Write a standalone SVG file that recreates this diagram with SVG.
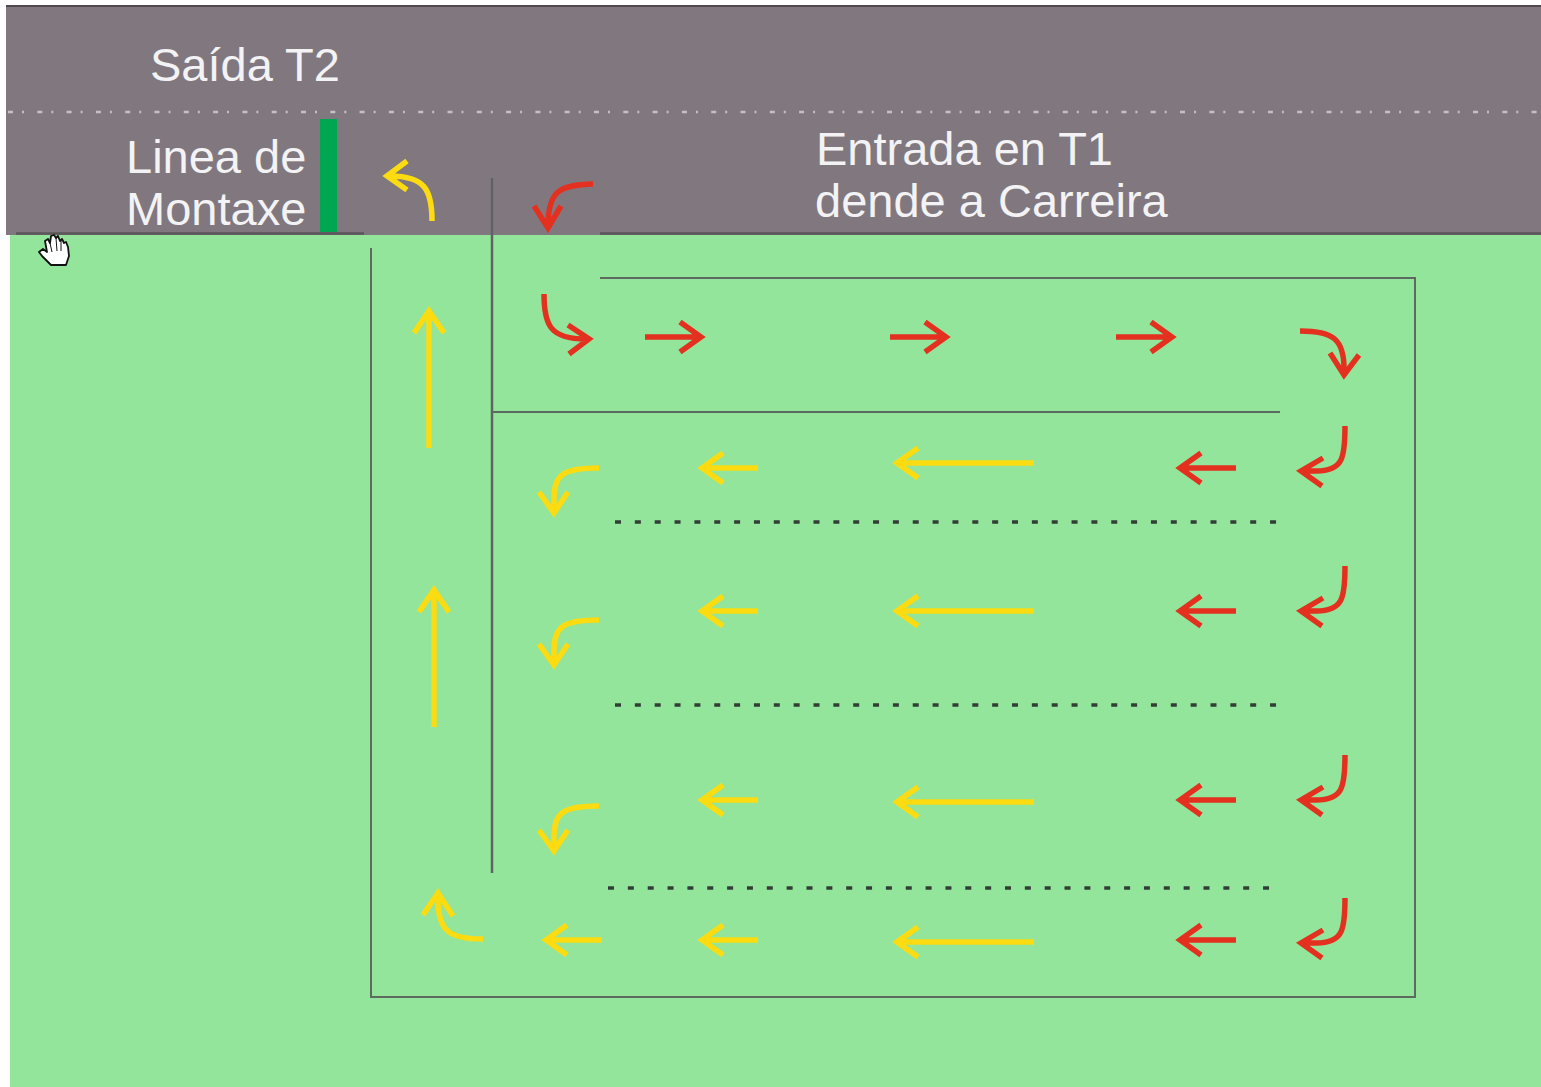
<svg xmlns="http://www.w3.org/2000/svg" width="1541" height="1087" viewBox="0 0 1541 1087">
<style>
text{font-family:"Liberation Sans",Arial,sans-serif;font-size:47px;fill:#f3f3f5}
.r,.y{fill:none;stroke-width:5.500}
.r{stroke:#e4301f}
.y{stroke:#fcdc10}
.l{fill:none;stroke:#5c6a60;stroke-width:2}
.d{fill:none;stroke:#343c36;stroke-width:3.500;stroke-dasharray:6 13.85}
</style>
<defs>
<g id="rl" class="r"><path d="M60 0H6M25-15L4 0L25 15"/></g>
<g id="rr" class="r"><path d="M0 0H55M35-15L56 0L35 15"/></g>
<g id="yl" class="y"><path d="M60 0H6M25-15L4 0L25 15"/></g>
<g id="yll" class="y"><path d="M141 0H6M25-15L4 0L25 15"/></g>
<g id="rj" class="r"><path d="M49 0C49 32 47 45 20 45H6M27 32L5 45L26 60"/></g>
<g id="yc" class="y"><path d="M45 0C10 0 0 6 0 30V42M-15 24L0 45L14 24"/></g>
</defs>
<rect id="page" width="1541" height="1087" fill="#fff"/>
<rect id="lawn" x="10" y="235" width="1531" height="852" fill="#93e59b"/>
<g id="band">
<rect x="6" y="6" width="1535" height="229" fill="#81787f"/>
<path d="M6 6H1541" stroke="#4e494d" stroke-width="2"/>
<path d="M8 112H1541" stroke="#c4c0c3" stroke-width="2.500" stroke-dasharray="5 9 2 13.3"/>
<path d="M16 233.500H364M600 233.500H1541" stroke="#5b565a" stroke-width="2.500"/>
</g>
<g id="saida-t2"><text x="150" y="81">Saída T2</text></g>
<g id="linea-de-montaxe">
<text x="126" y="173">Linea de</text>
<text x="126" y="225">Montaxe</text>
<rect x="320" y="119" width="17" height="113" fill="#00a651"/>
</g>
<g id="entrada-t1">
<text x="816" y="165">Entrada en T1</text>
<text x="815" y="217">dende a Carreira</text>
</g>
<g id="hand-cursor">
<path d="M51 265L42 256L39 252L43 249L47 252L45 241L48 239L50 243L51 236L54 235L56 238L58 236L60 241L62 239L64 243L66 242L68 247L69 256L66 265Z" fill="#fff" stroke="#111" stroke-width="1.800" stroke-linejoin="round"/>
<path d="M50 243L52 252M56 238L57 251M61 241L61 251" stroke="#111" stroke-width="1" fill="none"/>
</g>
<g id="connectors">
<path class="l" d="M371 248V997H1415V278H600"/>
<path class="l" d="M492 178V873" style="stroke:#5f6463;stroke-width:2.500"/>
<path class="l" d="M492 412H1280"/>
<path class="d" d="M615 522H1277"/>
<path class="d" d="M615 705H1277"/>
<path class="d" d="M608 888H1270"/>
<g class="r">
<path d="M593 184C560 185 548 190 548 226M534 206L548 228L561 206"/>
<path d="M544 294C544 325 550 339 586 339M568 325L589 339L569 354"/>
<path d="M1300 331C1332 331 1345 338 1344 372M1330 353L1344 375L1359 355"/>
</g>
<use href="#rr" x="645" y="337"/>
<use href="#rr" x="890" y="337"/>
<use href="#rr" x="1116" y="337"/>
<use href="#rj" x="1296" y="426"/>
<use href="#rj" x="1296" y="566"/>
<use href="#rj" x="1296" y="755"/>
<use href="#rj" x="1296" y="898"/>
<use href="#rl" x="1176" y="468"/>
<use href="#rl" x="1176" y="611"/>
<use href="#rl" x="1176" y="800"/>
<use href="#rl" x="1176" y="940"/>
<use href="#yl" x="698" y="468"/>
<use href="#yl" x="698" y="611"/>
<use href="#yl" x="698" y="800"/>
<use href="#yl" x="698" y="940"/>
<use href="#yl" x="542" y="940"/>
<use href="#yll" x="893" y="463"/>
<use href="#yll" x="893" y="611"/>
<use href="#yll" x="893" y="802"/>
<use href="#yll" x="893" y="942"/>
<use href="#yc" x="554" y="468"/>
<use href="#yc" x="554" y="620"/>
<use href="#yc" x="554" y="806"/>
<g class="y">
<path d="M432 221C432 190 425 176 390 176M407 161L387 176L407 190"/>
<path d="M429 448V312M414 333L429 311L444 333"/>
<path d="M434 727V591M419 612L434 590L449 612"/>
<path d="M483 939C450 939 437 932 438 896M423 915L438 893L453 916"/>
</g>
</g>
</svg>
